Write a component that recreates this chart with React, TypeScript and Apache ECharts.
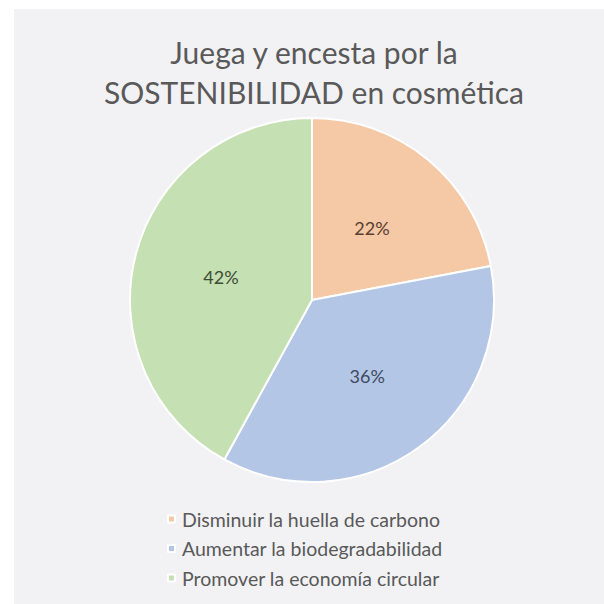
import React, { useEffect, useRef } from "react";
import * as echarts from "echarts";

const categories = [
  "Disminuir la huella de carbono",
  "Aumentar la biodegradabilidad",
  "Promover la economía circular",
];
const values = [22, 36, 42];
const colors = ["#F5C8A6", "#B3C6E6", "#C5E0B3"];
const labelColors = ["#5a4030", "#3d4a60", "#3f4d36"];
const titleText = "Juega y encesta por la\nSOSTENIBILIDAD en cosmética";

export default function App() {
  const ref = useRef<HTMLDivElement>(null);
  useEffect(() => {
    if (!ref.current) return;
    const chart = echarts.init(ref.current, undefined, { renderer: "svg" });
    chart.setOption({
      animation: false,
      backgroundColor: "#ffffff",
      graphic: [
        {
          type: "rect",
          shape: { x: 14, y: 9, width: 590, height: 595 },
          style: { fill: "#F2F2F5" },
          z: -10,
          silent: true,
        },
      ],
      title: {
        text: titleText,
        left: 309,
        textAlign: "center",
        top: 27,
        textStyle: {
          fontFamily: "Lato",
          fontSize: 30,
          fontWeight: "normal",
          color: "#595959",
          lineHeight: 40,
        },
      },
      legend: {
        orient: "vertical",
        left: 162,
        top: 504,
        itemWidth: 7,
        itemHeight: 7,
        itemGap: 9.5,
        icon: "rect",
        data: categories,
        textStyle: {
          fontFamily: "Lato",
          fontSize: 19.5,
          color: "#595959",
          padding: [0, 0, 0, 2],
        },
      },
      series: [
        {
          type: "pie",
          center: [312, 300],
          radius: [0, 182],
          startAngle: 90,
          clockwise: true,
          data: categories.map((name, i) => ({
            name,
            value: values[i],
            itemStyle: { color: colors[i] },
            label: { color: labelColors[i] },
          })),
          itemStyle: { borderColor: "#ffffff", borderWidth: 2 },
          label: {
            position: "inside",
            formatter: "{c}%",
            fontFamily: "Lato",
            fontSize: 18,
          },
          labelLine: { show: false },
          emphasis: { disabled: true },
        },
      ],
    });
    return () => chart.dispose();
  }, []);
  return (
    <div
      ref={ref}
      style={{ position: "fixed", left: 0, top: 0, width: 604, height: 604 }}
    />
  );
}
